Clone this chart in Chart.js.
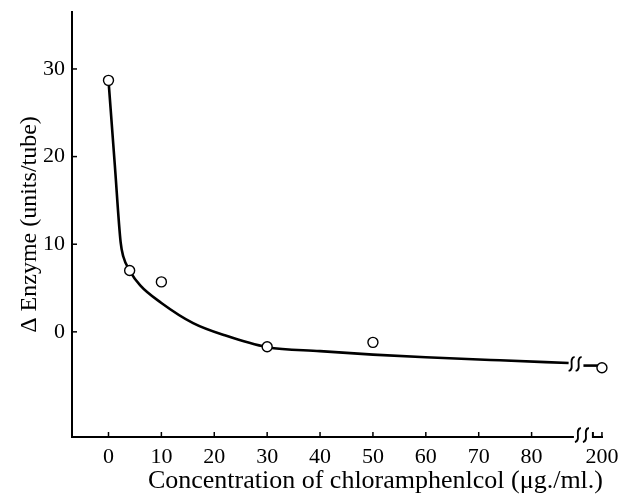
<!DOCTYPE html>
<html lang="en">
<head>
  <meta charset="UTF-8">
  <title>Enzyme vs chloramphenicol</title>
  <script src="https://cdn.jsdelivr.net/npm/chart.js"></script>
  <style>
    body { margin: 0; background: #fff; }
    canvas { display: block; }
  </style>
</head>
<body>
  <canvas id="chart" width="622" height="494"></canvas>
  <script>
    // measured points (concentration in ug/ml, delta enzyme in units/tube)
    const concentration = [0, 4, 10, 30, 50, 200];
    const deltaEnzyme = [28.7, 7.0, 5.7, -1.7, -1.2, -4.1];

    // hand drawn fitted curve
    const curveX = [0, 1.2, 2.3, 2.8, 4, 6, 10, 16, 22, 30, 40, 50, 60, 74, 87];
    const curveY = [28.7, 19, 10.2, 8.6, 7.0, 5.3, 3.3, 1.0, -0.4, -1.75, -2.2, -2.6, -2.9, -3.25, -3.55];
    // short piece after the axis break, leading to the 200 point
    const tailX = [89.8, 92.6];
    const tailY = [-3.85, -3.85];

    const xTicks = [0, 10, 20, 30, 40, 50, 60, 70, 80, 200];
    const yTicks = [0, 10, 20, 30];

    // the axis is broken between 80 and 200; 200 sits just after the break
    const breakAt = 88;
    const pos200 = 93.3;
    const pos = v => v > 100 ? pos200 : v;

    const serif = "'Liberation Serif', 'DejaVu Serif', serif";

    // ticks pointing into the plot + the break marks
    const decor = {
      id: 'decor',
      afterDraw(chart) {
        const { ctx, chartArea: a, scales: { x, y } } = chart;
        ctx.save();
        ctx.strokeStyle = '#000';
        ctx.lineWidth = 1.5;

        x.ticks.forEach(t => {
          const px = x.getPixelForValue(t.value);
          ctx.beginPath();
          ctx.moveTo(px, a.bottom);
          ctx.lineTo(px, a.bottom - 5);
          ctx.stroke();
        });
        y.ticks.forEach(t => {
          const py = y.getPixelForValue(t.value);
          ctx.beginPath();
          ctx.moveTo(a.left, py);
          ctx.lineTo(a.left + 5, py);
          ctx.stroke();
        });

        // x axis line with a gap
        const bx = x.getPixelForValue(breakAt);
        ctx.lineWidth = 2;
        ctx.beginPath();
        ctx.moveTo(a.left - 1, a.bottom);
        ctx.lineTo(bx, a.bottom);
        ctx.moveTo(bx + 19, a.bottom - 5);
        ctx.lineTo(bx + 19, a.bottom);
        ctx.lineTo(a.right, a.bottom);
        ctx.stroke();

        const squiggle = (cx, cy) => {
          ctx.beginPath();
          ctx.moveTo(cx - 3, cy + 7);
          ctx.bezierCurveTo(cx + 4, cy + 6, cx - 4, cy - 6, cx + 3, cy - 7);
          ctx.stroke();
        };
        ctx.lineWidth = 1.8;
        squiggle(bx + 4, a.bottom - 2);
        squiggle(bx + 12, a.bottom - 2);

        const cx = x.getPixelForValue(curveX[curveX.length - 1]);
        const cy = y.getPixelForValue(curveY[curveY.length - 1]);
        squiggle(cx + 3, cy + 1);
        squiggle(cx + 10, cy + 1);
        ctx.restore();
      }
    };

    new Chart(document.getElementById('chart'), {
      type: 'scatter',
      data: {
        datasets: [
          {
            data: concentration.map((c, i) => ({ x: pos(c), y: deltaEnzyme[i] })),
            showLine: false,
            clip: false,
            pointRadius: 5,
            pointBackgroundColor: '#fff',
            pointBorderColor: '#000',
            pointBorderWidth: 1.4,
            order: 0
          },
          {
            data: curveX.map((c, i) => ({ x: c, y: curveY[i] })),
            showLine: true,
            borderColor: '#000',
            borderWidth: 2.6,
            pointRadius: 0,
            cubicInterpolationMode: 'monotone',
            order: 1
          },
          {
            data: tailX.map((c, i) => ({ x: c, y: tailY[i] })),
            showLine: true,
            borderColor: '#000',
            borderWidth: 2.6,
            pointRadius: 0,
            order: 1
          }
        ]
      },
      options: {
        responsive: false,
        animation: false,
        layout: { padding: { top: 12, right: 19, left: 0, bottom: 0 } },
        plugins: {
          legend: { display: false },
          tooltip: { enabled: false }
        },
        scales: {
          x: {
            type: 'linear',
            min: -6.9,
            max: pos200 + 0.2,
            afterFit: s => { s.height = 57; s.paddingLeft = 0; s.paddingRight = 0; },
            afterBuildTicks: s => { s.ticks = xTicks.map(v => ({ value: pos(v) })); },
            grid: { display: false, drawTicks: false },
            border: { display: false },
            ticks: {
              color: '#000',
              padding: 7,
              maxRotation: 0,
              font: { family: serif, size: 22 },
              callback: (v, i) => String(xTicks[i])
            },
            title: {
              display: true,
              align: 'end',
              text: 'Concentration of chloramphenlcol (\u03bcg./ml.)',
              color: '#000',
              font: { family: serif, size: 26 },
              padding: { top: 0, bottom: -3 }
            }
          },
          y: {
            min: -12,
            max: 36.5,
            afterFit: s => { s.width = 72; s.paddingTop = 0; s.paddingBottom = 0; },
            afterBuildTicks: s => { s.ticks = yTicks.map(v => ({ value: v })); },
            grid: { display: false, drawTicks: false },
            border: { display: true, color: '#000', width: 2 },
            ticks: {
              color: '#000',
              padding: 7,
              font: { family: serif, size: 22 }
            },
            title: {
              display: true,
              text: '\u0394 Enzyme (units/tube)',
              color: '#000',
              font: { family: serif, size: 24 },
              padding: { top: 15, bottom: 0 }
            }
          }
        }
      },
      plugins: [decor]
    });
  </script>
</body>
</html>
